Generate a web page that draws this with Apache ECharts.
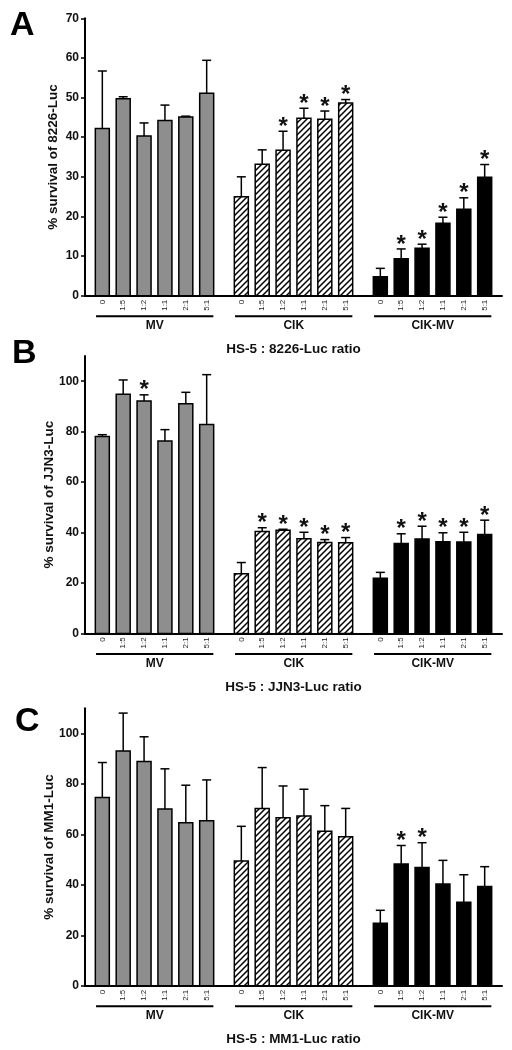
<!DOCTYPE html>
<html><head><meta charset="utf-8">
<script src="https://cdn.jsdelivr.net/npm/echarts@6/dist/echarts.min.js"></script>
<style>html,body{margin:0;padding:0;background:#fff}#c{width:512px;height:1050px}</style>
</head><body><div id="c"></div>
<script>
// ---------------- data ----------------
const groupNames = ['MV', 'CIK', 'CIK-MV'];
const ratioLabels = ['0', '1:5', '1:2', '1:1', '2:1', '5:1'];
const panelLetters = ['A', 'B', 'C'];
const yTitles = ['% survival of 8226-Luc', '% survival of JJN3-Luc', '% survival of MM1-Luc'];
const xTitles = ['HS-5 : 8226-Luc ratio', 'HS-5 : JJN3-Luc ratio', 'HS-5 : MM1-Luc ratio'];

// Panel A (MV x6, CIK x6, CIK-MV x6)
const meanA = [42.2, 49.7, 40.3, 44.2, 45.1, 51.1, 25.0, 33.2, 36.7, 44.8, 44.5, 48.6, 4.8, 9.3, 12.0, 18.3, 21.8, 29.9];
const errA  = [14.5, 0.5, 3.3, 3.9, 0.2, 8.3, 5.0, 3.6, 4.8, 2.5, 2.1, 0.9, 2.1, 2.5, 1.0, 1.5, 2.9, 3.2];
const starA = [0, 0, 0, 0, 0, 0, 0, 0, 1, 1, 1, 1, 0, 1, 1, 1, 1, 1];
const yTicksA = [0, 10, 20, 30, 40, 50, 60, 70];

// Panel B
const meanB = [78.1, 94.8, 92.2, 76.3, 91.1, 82.8, 23.7, 40.4, 40.9, 37.5, 36.0, 35.9, 21.9, 35.6, 37.4, 36.3, 36.2, 39.2];
const errB  = [0.7, 5.7, 2.4, 4.5, 4.5, 19.8, 4.4, 1.5, 0.4, 2.6, 1.2, 2.1, 2.3, 3.9, 5.1, 3.6, 3.9, 5.7];
const starB = [0, 0, 1, 0, 0, 0, 0, 1, 1, 1, 1, 1, 0, 1, 1, 1, 1, 1];
const yTicksB = [0, 20, 40, 60, 80, 100];

// Panel C
const meanC = [74.6, 93.1, 88.9, 70.1, 64.6, 65.4, 49.4, 70.3, 66.6, 67.3, 61.2, 59.1, 24.8, 48.3, 46.9, 40.3, 33.1, 39.3];
const errC  = [13.9, 15.0, 9.8, 15.9, 14.9, 16.2, 13.8, 16.2, 12.6, 10.6, 10.2, 11.2, 5.1, 7.3, 9.8, 9.4, 10.9, 7.9];
const starC = [0, 0, 0, 0, 0, 0, 0, 0, 0, 0, 0, 0, 0, 1, 1, 0, 0, 0];
const yTicksC = [0, 20, 40, 60, 80, 100];

const yMax = [70, 110, 110];
const yStep = [10, 20, 20];

// ---------------- layout / style ----------------
const FONT = '"Liberation Sans", Arial, sans-serif';
const groupStride = 6.66;   // category units between first bars of adjacent groups
const xMin = -0.83, xMax = 2 * groupStride + 5 + 0.83;
const barW = 0.67;
const gridTops = [18.3, 356, 708.3];
const gridH = 277.4;
const gridLeft = 85, gridRight = 10;
const yNameGaps = [25, 29, 29];

const hatch = document.createElement('canvas');
hatch.width = 6; hatch.height = 6;
(function () {
  const ctx = hatch.getContext('2d');
  ctx.fillStyle = '#fff'; ctx.fillRect(0, 0, 6, 6);
  ctx.strokeStyle = '#000'; ctx.lineWidth = 1.5; ctx.lineCap = 'square';
  ctx.beginPath();
  ctx.moveTo(0, 6); ctx.lineTo(6, 0);
  ctx.moveTo(-1, 1); ctx.lineTo(1, -1);
  ctx.moveTo(5, 7); ctx.lineTo(7, 5);
  ctx.stroke();
})();
const fills = ['#8e8e8e', { image: hatch, repeat: 'repeat' }, '#000'];

function xPos(k) { return Math.floor(k / 6) * groupStride + (k % 6); }

const means = [meanA, meanB, meanC], errs = [errA, errB, errC], stars = [starA, starB, starC];
const yTicks = [yTicksA, yTicksB, yTicksC];

const grids = [], xAxes = [], yAxes = [], series = [], graphics = [];

for (let p = 0; p < 3; p++) {
  grids.push({ left: gridLeft, right: gridRight, top: gridTops[p], height: gridH, containLabel: false });
  xAxes.push({
    gridIndex: p, type: 'value', min: xMin, max: xMax,
    axisLine: { show: true, onZero: false, lineStyle: { color: '#000', width: 2 } },
    axisTick: { show: false }, axisLabel: { show: false }, splitLine: { show: false },
    name: xTitles[p], nameLocation: 'middle', nameGap: 54, nameMoveOverlap: false,
    nameTextStyle: { fontFamily: FONT, fontWeight: 'bold', fontSize: 13.5, color: '#111', verticalAlign: 'middle' }
  });
  yAxes.push({
    gridIndex: p, type: 'value', min: 0, max: yMax[p], interval: yStep[p],
    axisLine: { show: true, onZero: false, lineStyle: { color: '#000', width: 2 } },
    axisTick: { show: true, length: 4, customValues: yTicks[p], lineStyle: { color: '#000', width: 1.5 } },
    axisLabel: { customValues: yTicks[p], margin: 6, fontFamily: FONT, fontWeight: 'bold', fontSize: 12, color: '#111',
      formatter: v => (yTicks[p].indexOf(v) >= 0 ? String(v) : '') },
    splitLine: { show: false },
    name: yTitles[p], nameLocation: 'middle', nameGap: yNameGaps[p], nameRotate: 90, nameMoveOverlap: false,
    nameTextStyle: { fontFamily: FONT, fontWeight: 'bold', fontSize: 13.5, color: '#111' }
  });

  const data = means[p].map((m, k) => [xPos(k), m, errs[p][k], stars[p][k], Math.floor(k / 6), k % 6]);
  series.push({
    type: 'custom', xAxisIndex: p, yAxisIndex: p, clip: false, data: data,
    renderItem: function (params, api) {
      const x = api.value(0), m = api.value(1), e = api.value(2), s = api.value(3), g = api.value(4), r = api.value(5);
      const base = api.coord([x, 0]);
      const top = api.coord([x, m]);
      const et = api.coord([x, m + e]);
      const w = api.size([barW, 0])[0];
      const cx = base[0];
      const ch = [];
      if (e > 0) {
        ch.push({ type: 'line', shape: { x1: cx, y1: top[1], x2: cx, y2: et[1] }, style: { stroke: '#000', lineWidth: 1.5 } });
        ch.push({ type: 'line', shape: { x1: cx - 4.5, y1: et[1], x2: cx + 4.5, y2: et[1] }, style: { stroke: '#000', lineWidth: 1.5 } });
      }
      ch.push({ type: 'rect', shape: { x: cx - w / 2, y: top[1], width: w, height: base[1] - top[1] },
        style: { fill: fills[g], stroke: '#000', lineWidth: 1.5 } });
      if (s) {
        ch.push({ type: 'text', x: cx, y: et[1] - 4,
          style: { text: '*', font: 'bold 24px ' + FONT, fill: '#111', align: 'center', verticalAlign: 'middle' } });
      }
      ch.push({ type: 'text', x: cx, y: base[1] + 4, rotation: Math.PI / 2,
        style: { text: ratioLabels[r], font: '8px ' + FONT, fill: '#222', align: 'right', verticalAlign: 'middle' } });
      return { type: 'group', children: ch };
    },
    z: 3
  });

  series.push({
    type: 'custom', xAxisIndex: p, yAxisIndex: p, clip: false, data: groupNames.map((n, g) => [g]),
    renderItem: function (params, api) {
      const g = api.value(0);
      const a = api.coord([xPos(g * 6) - 0.3, 0]);
      const b = api.coord([xPos(g * 6 + 5) + 0.32, 0]);
      return { type: 'group', children: [
        { type: 'line', shape: { x1: a[0], y1: a[1] + 20.6, x2: b[0], y2: a[1] + 20.6 }, style: { stroke: '#000', lineWidth: 2 } },
        { type: 'text', x: (a[0] + b[0]) / 2, y: a[1] + 30,
          style: { text: groupNames[g], font: 'bold 12px ' + FONT, fill: '#111', align: 'center', verticalAlign: 'middle' } }
      ] };
    }
  });

  graphics.push({ type: 'text', left: [10, 12, 15][p], top: [9, 337, 705][p],
    style: { text: panelLetters[p], font: 'bold 34px ' + FONT, fill: '#000' } });
}

const chart = echarts.init(document.getElementById('c'), null, { renderer: 'canvas' });
chart.setOption({
  animation: false,
  backgroundColor: '#fff',
  grid: grids, xAxis: xAxes, yAxis: yAxes, series: series, graphic: graphics
});
</script>
</body></html>
